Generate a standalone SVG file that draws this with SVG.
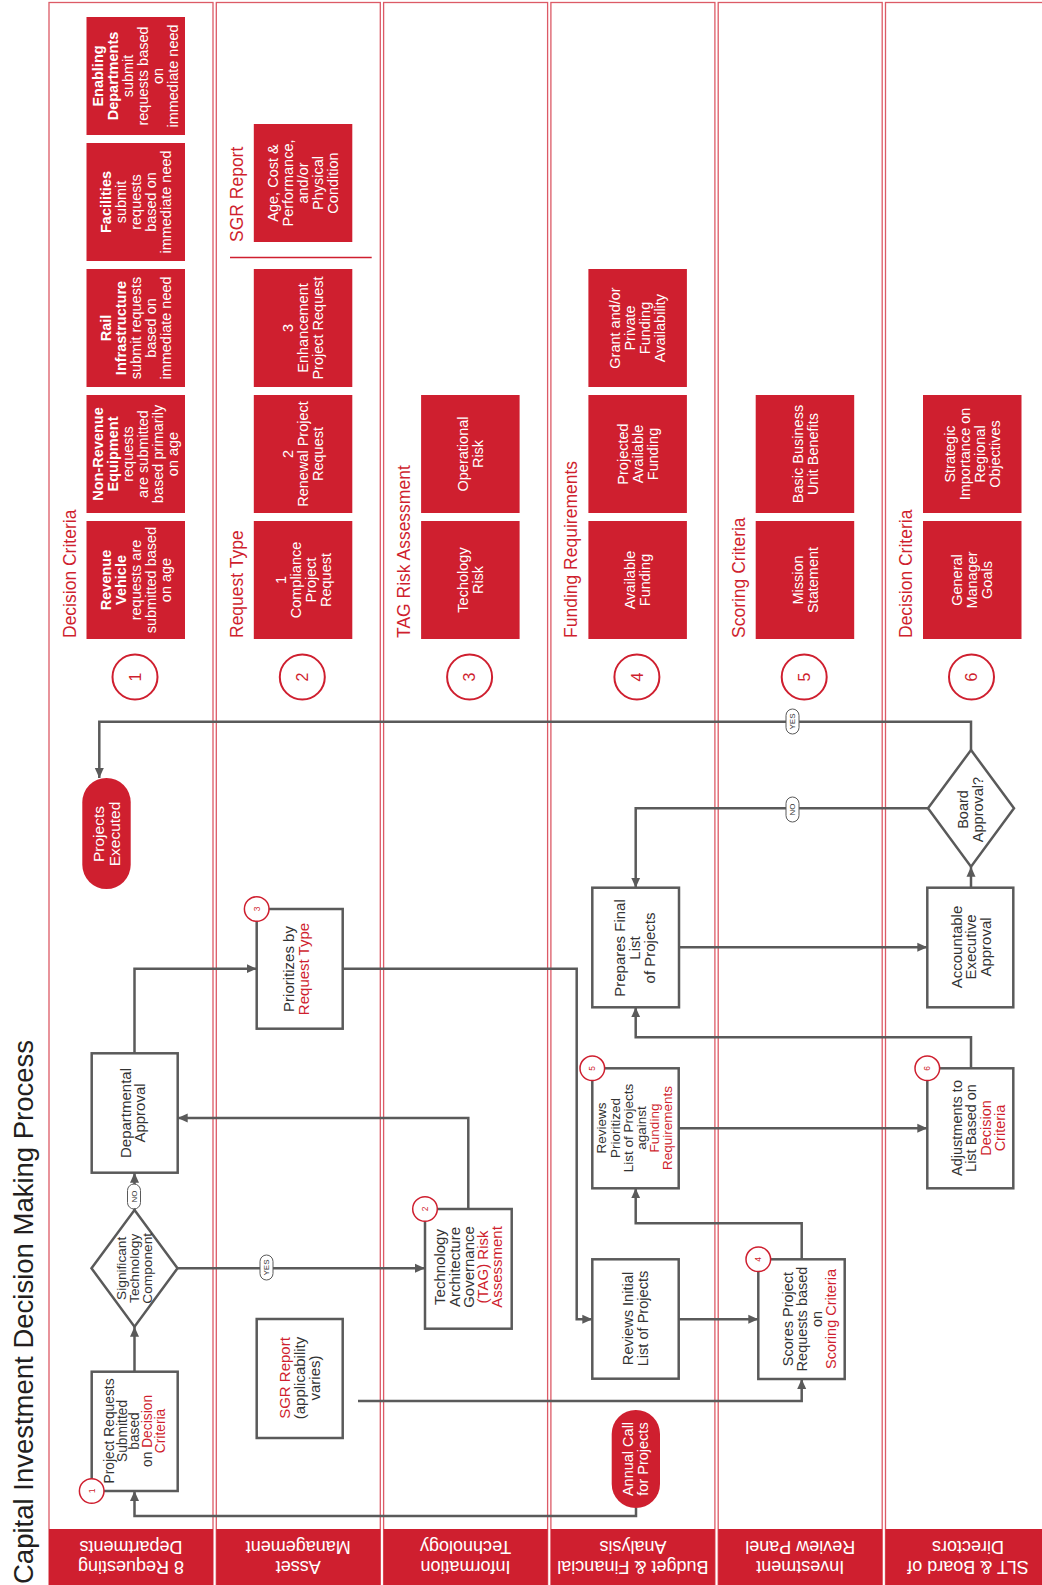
<svg xmlns="http://www.w3.org/2000/svg" width="1042" height="1585" viewBox="0 0 1042 1585">
<defs>
<style>
.lane{fill:none;stroke:#dc5a66;stroke-width:1.3}
.hdr{fill:#cf1f2f}
.rbox{fill:#cf1f2f}
.fbox{fill:#fff;stroke:#5a5a5a;stroke-width:2.5}
.pill{fill:#cf1f2f}
.conn{fill:none;stroke:#5a5a5a;stroke-width:2.5;marker-end:url(#ah)}
.big{fill:#fff;stroke:#cf1f2f;stroke-width:2}
.sm{fill:#fff;stroke:#cf1f2f;stroke-width:1.5}
.lbl{fill:#fff;stroke:#5a5a5a;stroke-width:1}
.sep{stroke:#cf1f2f;stroke-width:1.5}
text{font-family:"Liberation Sans",Arial,Helvetica,sans-serif}
.w{fill:#fff}
.d{fill:#333}
.r{fill:#cf1f2f}
.b{font-weight:bold}
.bx{font-size:14.5px;text-anchor:middle}
.hd{font-size:17.5px;fill:#cf1f2f}
.hh{font-size:18px;fill:#fff;text-anchor:middle}
.num{font-size:16px;fill:#cf1f2f;text-anchor:middle}
.snum{font-size:8.5px;fill:#cf1f2f;text-anchor:middle}
.yn{font-size:8px;fill:#333;text-anchor:middle}
</style>
<marker id="ah" markerUnits="userSpaceOnUse" markerWidth="11" markerHeight="10" refX="10" refY="5" orient="auto"><path d="M0,0.5 L10,5 L0,9.5 z" fill="#5a5a5a"/></marker>
</defs>
<rect width="1042" height="1585" fill="#fff"/>

<g id="lanes">
<rect class="lane" x="49" y="2.5" width="164" height="1590"/>
<rect class="lane" x="216.3" y="2.5" width="164" height="1590"/>
<rect class="lane" x="383.6" y="2.5" width="164" height="1590"/>
<rect class="lane" x="550.9" y="2.5" width="164" height="1590"/>
<rect class="lane" x="718.2" y="2.5" width="164" height="1590"/>
<rect class="lane" x="885.5" y="2.5" width="164" height="1590"/>
<rect class="hdr" x="49" y="1529" width="164" height="57"/>
<rect class="hdr" x="216.3" y="1529" width="164" height="57"/>
<rect class="hdr" x="383.6" y="1529" width="164" height="57"/>
<rect class="hdr" x="550.9" y="1529" width="164" height="57"/>
<rect class="hdr" x="718.2" y="1529" width="164" height="57"/>
<rect class="hdr" x="885.5" y="1529" width="164" height="57"/>
<text class="hh" transform="translate(131,1557) rotate(180)"><tspan x="0" y="-3.7">8 Requesting</tspan><tspan x="0" dy="20">Departments</tspan></text>
<text class="hh" transform="translate(298.3,1557) rotate(180)"><tspan x="0" y="-3.7">Asset</tspan><tspan x="0" dy="20">Management</tspan></text>
<text class="hh" transform="translate(465.6,1557) rotate(180)"><tspan x="0" y="-3.7">Information</tspan><tspan x="0" dy="20">Technology</tspan></text>
<text class="hh" transform="translate(632.9,1557) rotate(180)"><tspan x="0" y="-3.7">Budget &amp; Financial</tspan><tspan x="0" dy="20">Analysis</tspan></text>
<text class="hh" transform="translate(800.2,1557) rotate(180)"><tspan x="0" y="-3.7">Investment</tspan><tspan x="0" dy="20">Review Panel</tspan></text>
<text class="hh" transform="translate(968,1557) rotate(180)"><tspan x="0" y="-3.7">SLT &amp; Board of</tspan><tspan x="0" dy="20">Directors</tspan></text>
</g>

<g id="title">
<text transform="translate(33,1584) rotate(-90)" style="font-size:27.5px;fill:#231f20">Capital Investment Decision Making Process</text>
</g>

<g id="criteria-1">
<text class="hd" transform="translate(75.5,638) rotate(-90)">Decision Criteria</text>
<rect class="rbox" x="86.5" y="521" width="98.5" height="118"/>
<rect class="rbox" x="86.5" y="395" width="98.5" height="118"/>
<rect class="rbox" x="86.5" y="269" width="98.5" height="118"/>
<rect class="rbox" x="86.5" y="143" width="98.5" height="118"/>
<rect class="rbox" x="86.5" y="17" width="98.5" height="118"/>
<text class="bx w" transform="translate(135.75,580) rotate(-90)"><tspan class="b" x="0" y="-24.9">Revenue</tspan><tspan class="b" x="0" dy="15">Vehicle</tspan><tspan x="0" dy="15">requests are</tspan><tspan x="0" dy="15">submitted based</tspan><tspan x="0" dy="15">on age</tspan></text>
<text class="bx w" transform="translate(135.75,454) rotate(-90)"><tspan class="b" x="0" y="-32.4">Non-Revenue</tspan><tspan class="b" x="0" dy="15">Equipment</tspan><tspan x="0" dy="15">requests</tspan><tspan x="0" dy="15">are submitted</tspan><tspan x="0" dy="15">based primarily</tspan><tspan x="0" dy="15">on age</tspan></text>
<text class="bx w" transform="translate(135.75,328) rotate(-90)"><tspan class="b" x="0" y="-24.9">Rail</tspan><tspan class="b" x="0" dy="15">Infrastructure</tspan><tspan x="0" dy="15">submit requests</tspan><tspan x="0" dy="15">based on</tspan><tspan x="0" dy="15">immediate need</tspan></text>
<text class="bx w" transform="translate(135.75,202) rotate(-90)"><tspan class="b" x="0" y="-24.9">Facilities</tspan><tspan x="0" dy="15">submit</tspan><tspan x="0" dy="15">requests</tspan><tspan x="0" dy="15">based on</tspan><tspan x="0" dy="15">immediate need</tspan></text>
<text class="bx w" transform="translate(135.75,76) rotate(-90)"><tspan class="b" x="0" y="-32.4">Enabling</tspan><tspan class="b" x="0" dy="15">Departments</tspan><tspan x="0" dy="15">submit</tspan><tspan x="0" dy="15">requests based</tspan><tspan x="0" dy="15">on</tspan><tspan x="0" dy="15">immediate need</tspan></text>
<circle class="big" cx="135" cy="677" r="22.5"/>
<text class="num" transform="translate(135,677) rotate(-90)" y="5.6">1</text>
</g>

<g id="criteria-2">
<text class="hd" transform="translate(242.8,638) rotate(-90)">Request Type</text>
<text class="hd" transform="translate(242.8,242) rotate(-90)">SGR Report</text>
<line class="sep" x1="230" y1="257.5" x2="371.7" y2="257.5"/>
<rect class="rbox" x="253.8" y="521" width="98.5" height="118"/>
<rect class="rbox" x="253.8" y="395" width="98.5" height="118"/>
<rect class="rbox" x="253.8" y="269" width="98.5" height="118"/>
<rect class="rbox" x="253.8" y="124" width="98.5" height="118"/>
<text class="bx w" transform="translate(303.05,580) rotate(-90)"><tspan x="0" y="-17.4">1</tspan><tspan x="0" dy="15">Compliance</tspan><tspan x="0" dy="15">Project</tspan><tspan x="0" dy="15">Request</tspan></text>
<text class="bx w" transform="translate(303.05,454) rotate(-90)"><tspan x="0" y="-9.9">2</tspan><tspan x="0" dy="15">Renewal Project</tspan><tspan x="0" dy="15">Request</tspan></text>
<text class="bx w" transform="translate(303.05,328) rotate(-90)"><tspan x="0" y="-9.9">3</tspan><tspan x="0" dy="15">Enhancement</tspan><tspan x="0" dy="15">Project Request</tspan></text>
<text class="bx w" transform="translate(303.05,183) rotate(-90)"><tspan x="0" y="-24.9">Age, Cost &amp;</tspan><tspan x="0" dy="15">Performance,</tspan><tspan x="0" dy="15">and/or</tspan><tspan x="0" dy="15">Physical</tspan><tspan x="0" dy="15">Condition</tspan></text>
<circle class="big" cx="302.3" cy="677" r="22.5"/>
<text class="num" transform="translate(302.3,677) rotate(-90)" y="5.6">2</text>
</g>

<g id="criteria-3">
<text class="hd" transform="translate(410.1,638) rotate(-90)">TAG Risk Assessment</text>
<rect class="rbox" x="421.1" y="521" width="98.5" height="118"/>
<rect class="rbox" x="421.1" y="395" width="98.5" height="118"/>
<text class="bx w" transform="translate(470.35,580) rotate(-90)"><tspan x="0" y="-2.4">Techology</tspan><tspan x="0" dy="15">Risk</tspan></text>
<text class="bx w" transform="translate(470.35,454) rotate(-90)"><tspan x="0" y="-2.4">Operational</tspan><tspan x="0" dy="15">Risk</tspan></text>
<circle class="big" cx="469.6" cy="677" r="22.5"/>
<text class="num" transform="translate(469.6,677) rotate(-90)" y="5.6">3</text>
</g>

<g id="criteria-4">
<text class="hd" transform="translate(577.4,638) rotate(-90)">Funding Requirements</text>
<rect class="rbox" x="588.4" y="521" width="98.5" height="118"/>
<rect class="rbox" x="588.4" y="395" width="98.5" height="118"/>
<rect class="rbox" x="588.4" y="269" width="98.5" height="118"/>
<text class="bx w" transform="translate(637.65,580) rotate(-90)"><tspan x="0" y="-2.4">Available</tspan><tspan x="0" dy="15">Funding</tspan></text>
<text class="bx w" transform="translate(637.65,454) rotate(-90)"><tspan x="0" y="-9.9">Projected</tspan><tspan x="0" dy="15">Available</tspan><tspan x="0" dy="15">Funding</tspan></text>
<text class="bx w" transform="translate(637.65,328) rotate(-90)"><tspan x="0" y="-17.4">Grant and/or</tspan><tspan x="0" dy="15">Private</tspan><tspan x="0" dy="15">Funding</tspan><tspan x="0" dy="15">Availability</tspan></text>
<circle class="big" cx="636.9" cy="677" r="22.5"/>
<text class="num" transform="translate(636.9,677) rotate(-90)" y="5.6">4</text>
</g>

<g id="criteria-5">
<text class="hd" transform="translate(744.7,638) rotate(-90)">Scoring Criteria</text>
<rect class="rbox" x="755.7" y="521" width="98.5" height="118"/>
<rect class="rbox" x="755.7" y="395" width="98.5" height="118"/>
<text class="bx w" transform="translate(804.95,580) rotate(-90)"><tspan x="0" y="-2.4">Mission</tspan><tspan x="0" dy="15">Statement</tspan></text>
<text class="bx w" transform="translate(804.95,454) rotate(-90)"><tspan x="0" y="-2.4">Basic Business</tspan><tspan x="0" dy="15">Unit Benefits</tspan></text>
<circle class="big" cx="804.2" cy="677" r="22.5"/>
<text class="num" transform="translate(804.2,677) rotate(-90)" y="5.6">5</text>
</g>

<g id="criteria-6">
<text class="hd" transform="translate(912,638) rotate(-90)">Decision Criteria</text>
<rect class="rbox" x="923" y="521" width="98.5" height="118"/>
<rect class="rbox" x="923" y="395" width="98.5" height="118"/>
<text class="bx w" transform="translate(972.25,580) rotate(-90)"><tspan x="0" y="-9.9">General</tspan><tspan x="0" dy="15">Manager</tspan><tspan x="0" dy="15">Goals</tspan></text>
<text class="bx w" transform="translate(972.25,454) rotate(-90)"><tspan x="0" y="-17.4">Strategic</tspan><tspan x="0" dy="15">Importance on</tspan><tspan x="0" dy="15">Regional</tspan><tspan x="0" dy="15">Objectives</tspan></text>
<circle class="big" cx="971.5" cy="677" r="22.5"/>
<text class="num" transform="translate(971.5,677) rotate(-90)" y="5.6">6</text>
</g>

<g id="connectors">
<path class="conn" d="M636,1508 V1516 H134.5 V1491"/>
<path class="conn" d="M134.5,1371.7 V1326.7"/>
<path class="conn" d="M134.5,1210 V1172.7"/>
<path class="conn" d="M177.3,1268.3 H425"/>
<path class="conn" d="M468.3,1209 V1118 H177.7"/>
<path class="conn" d="M134.5,1053.3 V968.7 H256.7"/>
<path class="conn" d="M342.7,968.7 H576.7 V1319.3 H592.3"/>
<path class="conn" d="M678.7,1319.3 H758.3"/>
<path class="conn" d="M358,1401 H801.7 V1379"/>
<path class="conn" d="M801.7,1259.3 V1223.3 H635.7 V1188.3"/>
<path class="conn" d="M678.7,1128.3 H927.3"/>
<path class="conn" d="M971,1068.3 V1037.3 H635.7 V1007.3"/>
<path class="conn" d="M679,947.3 H927.3"/>
<path class="conn" d="M971,887.7 V866.7"/>
<path class="conn" d="M928.3,808.3 H635.7 V887.7"/>
<path class="conn" d="M971,750 V721.7 H99.3 V778"/>
<rect class="lbl" x="127.5" y="1184" width="13" height="25" rx="6.5"/>
<text class="yn" transform="translate(134,1196.5) rotate(-90)" y="2.8">NO</text>
<rect class="lbl" x="260" y="1255" width="13" height="25" rx="6.5"/>
<text class="yn" transform="translate(266.5,1267.5) rotate(-90)" y="2.8">YES</text>
<rect class="lbl" x="786" y="797" width="13" height="25" rx="6.5"/>
<text class="yn" transform="translate(792.5,809.5) rotate(-90)" y="2.8">NO</text>
<rect class="lbl" x="786" y="709" width="13" height="25" rx="6.5"/>
<text class="yn" transform="translate(792.5,721.5) rotate(-90)" y="2.8">YES</text>
</g>

<g id="annual-call">
<rect class="pill" x="611.7" y="1410" width="48.3" height="98" rx="24"/>
<text class="w" style="font-size:14.5px;text-anchor:middle" transform="translate(635.5,1459) rotate(-90)"><tspan x="0" y="-2.1">Annual Call</tspan><tspan x="0" dy="14.4">for Projects</tspan></text>
</g>

<g id="project-requests">
<rect class="fbox" x="91.7" y="1371.7" width="86" height="119.3"/>
<text class="d" style="font-size:13.8px;text-anchor:middle" transform="translate(134.5,1431) rotate(-90)"><tspan x="0" y="-20.8">Project Requests</tspan><tspan x="0" dy="12.8">Submitted</tspan><tspan x="0" dy="12.8">based</tspan><tspan x="0" dy="12.8">on <tspan class="r">Decision</tspan></tspan><tspan class="r" x="0" dy="12.8">Criteria</tspan></text>
<circle class="sm" cx="91.7" cy="1491" r="12.3"/>
<text class="snum" transform="translate(91.7,1491) rotate(-90)" y="3">1</text>
</g>

<g id="tech-decision">
<polygon class="fbox" points="134.5,1210 177.5,1268.3 134.5,1326.7 91.5,1268.3"/>
<text class="d" style="font-size:13.7px;text-anchor:middle" transform="translate(134.3,1268.3) rotate(-90)"><tspan x="0" y="-8.4">Significant</tspan><tspan x="0" dy="13.2">Technology</tspan><tspan x="0" dy="13.2">Component</tspan></text>
</g>

<g id="departmental-approval">
<rect class="fbox" x="91.7" y="1053.3" width="86" height="119.4"/>
<text class="d" style="font-size:15px;text-anchor:middle" transform="translate(133,1113) rotate(-90)"><tspan x="0" y="-1.75">Departmental</tspan><tspan x="0" dy="14">Approval</tspan></text>
</g>

<g id="projects-executed">
<rect class="pill" x="82.3" y="778" width="48.4" height="111" rx="24.2"/>
<text class="w" style="font-size:15.5px;text-anchor:middle" transform="translate(106.2,834) rotate(-90)"><tspan x="0" y="-2.4">Projects</tspan><tspan x="0" dy="15.7">Executed</tspan></text>
</g>

<g id="prioritizes">
<rect class="fbox" x="256.7" y="909" width="86" height="119.7"/>
<text class="d" style="font-size:15px;text-anchor:middle" transform="translate(296,969) rotate(-90)"><tspan x="0" y="-2.25">Prioritizes by</tspan><tspan class="r" x="0" dy="15">Request Type</tspan></text>
<circle class="sm" cx="256.7" cy="909" r="12.3"/>
<text class="snum" transform="translate(256.7,909) rotate(-90)" y="3">3</text>
</g>

<g id="sgr-report">
<rect class="fbox" x="256.7" y="1319" width="86" height="119"/>
<text class="d" style="font-size:15px;text-anchor:middle" transform="translate(300,1378) rotate(-90)"><tspan class="r" x="0" y="-9.75">SGR Report</tspan><tspan x="0" dy="15">(applicability</tspan><tspan x="0" dy="15">varies)</tspan></text>
</g>

<g id="tag-assessment">
<rect class="fbox" x="425" y="1209" width="86.7" height="119.7"/>
<text class="d" style="font-size:15px;text-anchor:middle" transform="translate(468.6,1267) rotate(-90)"><tspan x="0" y="-23.35">Technology</tspan><tspan x="0" dy="14.3">Architecture</tspan><tspan x="0" dy="14.3">Governance</tspan><tspan class="r" x="0" dy="14.3">(TAG) Risk</tspan><tspan class="r" x="0" dy="14.3">Assessment</tspan></text>
<circle class="sm" cx="425" cy="1209" r="12.3"/>
<text class="snum" transform="translate(425,1209) rotate(-90)" y="3">2</text>
</g>

<g id="reviews-initial">
<rect class="fbox" x="592.3" y="1259.3" width="86.4" height="119.4"/>
<text class="d" style="font-size:14.6px;text-anchor:middle" transform="translate(635.3,1318.5) rotate(-90)"><tspan x="0" y="-2.15">Reviews Initial</tspan><tspan x="0" dy="14.5">List of Projects</tspan></text>
</g>

<g id="reviews-prioritized">
<rect class="fbox" x="592.3" y="1068.3" width="86.4" height="120"/>
<text class="d" style="font-size:13.5px;text-anchor:middle" transform="translate(634.7,1128) rotate(-90)"><tspan x="0" y="-28.3">Reviews</tspan><tspan x="0" dy="13.2">Prioritized</tspan><tspan x="0" dy="13.2">List of Projects</tspan><tspan x="0" dy="13.2">against</tspan><tspan class="r" x="0" dy="13.2">Funding</tspan><tspan class="r" x="0" dy="13.2">Requirements</tspan></text>
<circle class="sm" cx="592.3" cy="1068.3" r="12.3"/>
<text class="snum" transform="translate(592.3,1068.3) rotate(-90)" y="3">5</text>
</g>

<g id="prepares-final">
<rect class="fbox" x="592.3" y="887.7" width="86.7" height="119.6"/>
<text class="d" style="font-size:15px;text-anchor:middle" transform="translate(635,948) rotate(-90)"><tspan x="0" y="-9.75">Prepares Final</tspan><tspan x="0" dy="15">List</tspan><tspan x="0" dy="15">of Projects</tspan></text>
</g>

<g id="scores">
<rect class="fbox" x="758.3" y="1259.3" width="86.4" height="119.7"/>
<text class="d" style="font-size:14.5px;text-anchor:middle" transform="translate(809.2,1319) rotate(-90)"><tspan x="0" y="-16.7">Scores Project</tspan><tspan x="0" dy="14.5">Requests based</tspan><tspan x="0" dy="14.5">on</tspan><tspan class="r" x="0" dy="14.5">Scoring Criteria</tspan></text>
<circle class="sm" cx="758.3" cy="1259.3" r="12.3"/>
<text class="snum" transform="translate(758.3,1259.3) rotate(-90)" y="3">4</text>
</g>

<g id="adjustments">
<rect class="fbox" x="927.3" y="1068.3" width="86" height="120"/>
<text class="d" style="font-size:14.5px;text-anchor:middle" transform="translate(978.2,1128) rotate(-90)"><tspan x="0" y="-16.5">Adjustments to</tspan><tspan x="0" dy="14.4">List Based on</tspan><tspan class="r" x="0" dy="14.4">Decision</tspan><tspan class="r" x="0" dy="14.4">Criteria</tspan></text>
<circle class="sm" cx="927.3" cy="1068.3" r="12.3"/>
<text class="snum" transform="translate(927.3,1068.3) rotate(-90)" y="3">6</text>
</g>

<g id="accountable">
<rect class="fbox" x="927.3" y="887.7" width="86" height="119.6"/>
<text class="d" style="font-size:15px;text-anchor:middle" transform="translate(971,947) rotate(-90)"><tspan x="0" y="-9.25">Accountable</tspan><tspan x="0" dy="14.5">Executive</tspan><tspan x="0" dy="14.5">Approval</tspan></text>
</g>

<g id="board-approval">
<polygon class="fbox" points="971,750 1014,808.3 971,866.7 928,808.3"/>
<text class="d" style="font-size:14.5px;text-anchor:middle" transform="translate(970.5,809.5) rotate(-90)"><tspan x="0" y="-2.1">Board</tspan><tspan x="0" dy="14.4">Approval?</tspan></text>
</g>
</svg>
